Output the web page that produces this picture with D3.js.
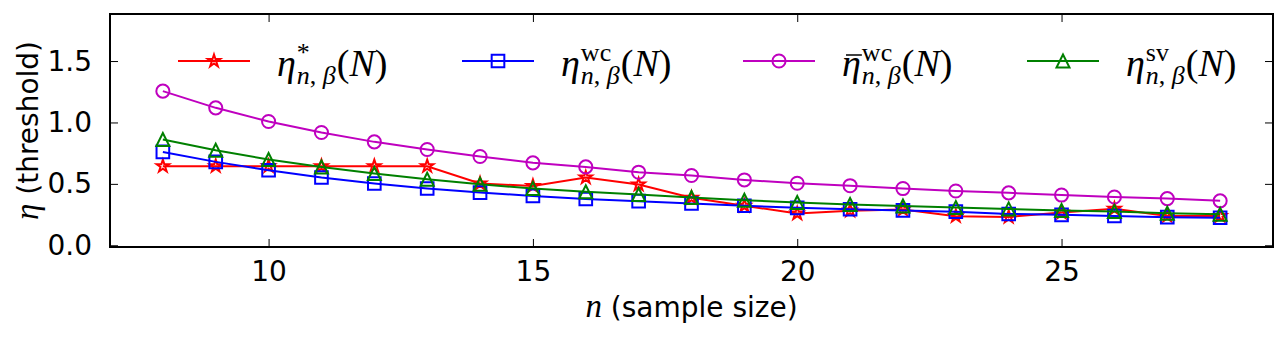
<!DOCTYPE html>
<html>
<head>
<meta charset="utf-8">
<script src="https://cdn.jsdelivr.net/npm/d3@7"></script>
<style>
  body { margin: 0; background: #fff; }
</style>
</head>
<body>
<div id="chart"></div>
<script>
// sample sizes n
var nValues = [8, 9, 10, 11, 12, 13, 14, 15, 16, 17, 18, 19, 20, 21, 22, 23, 24, 25, 26, 27, 28];

// thresholds
var etaStar  = [0.644, 0.644, 0.644, 0.644, 0.644, 0.644, 0.503, 0.483, 0.552, 0.494, 0.387, 0.322, 0.258, 0.282, 0.291, 0.237, 0.231, 0.266, 0.297, 0.239, 0.239];
var etaWc    = [0.760, 0.679, 0.611, 0.552, 0.503, 0.462, 0.429, 0.402, 0.377, 0.359, 0.340, 0.322, 0.305, 0.293, 0.284, 0.274, 0.255, 0.248, 0.238, 0.229, 0.224];
var etaBarWc = [1.255, 1.119, 1.008, 0.918, 0.842, 0.780, 0.723, 0.671, 0.638, 0.595, 0.568, 0.532, 0.505, 0.485, 0.462, 0.442, 0.427, 0.409, 0.393, 0.380, 0.362];
var etaSv    = [0.861, 0.774, 0.698, 0.638, 0.584, 0.538, 0.497, 0.462, 0.435, 0.413, 0.389, 0.367, 0.348, 0.332, 0.320, 0.307, 0.296, 0.283, 0.275, 0.261, 0.253];

var xTicks = [10, 15, 20, 25];
var yTicks = [0.0, 0.5, 1.0, 1.5];

var SANS = "'DejaVu Sans', sans-serif";
var SERIF = "'Liberation Serif', 'DejaVu Serif', serif";

// set the dimensions and margins of the graph
var margin = { top: 14, right: 15, bottom: 93, left: 110 },
    width = 1288 - margin.left - margin.right,
    height = 340 - margin.top - margin.bottom;

var svg = d3.select("#chart")
    .append("svg")
    .attr("width", 1288)
    .attr("height", 340)
    .append("g")
    .attr("transform", "translate(" + margin.left + "," + margin.top + ")");

var x = d3.scaleLinear().domain([7, 29]).range([0, width]);
var y = d3.scaleLinear().domain([-0.014, 1.883]).range([height, 0]);

// ticks point inward on all four sides
var tickLen = 8;
svg.append("g")
    .attr("transform", "translate(0," + height + ")")
    .call(d3.axisBottom(x).tickValues(xTicks).tickSizeInner(-tickLen).tickSizeOuter(0).tickPadding(14).tickFormat(d3.format("d")))
    .call(function (g) { g.select(".domain").remove(); });
svg.append("g")
    .call(d3.axisTop(x).tickValues(xTicks).tickSizeInner(-tickLen).tickSizeOuter(0).tickFormat(""))
    .call(function (g) { g.select(".domain").remove(); });
svg.append("g")
    .call(d3.axisLeft(y).tickValues(yTicks).tickSizeInner(-tickLen).tickSizeOuter(0).tickPadding(18).tickFormat(d3.format(".1f")))
    .call(function (g) { g.select(".domain").remove(); });
svg.append("g")
    .attr("transform", "translate(" + width + ",0)")
    .call(d3.axisRight(y).tickValues(yTicks).tickSizeInner(-tickLen).tickSizeOuter(0).tickFormat(""))
    .call(function (g) { g.select(".domain").remove(); });

svg.selectAll(".tick line").attr("stroke", "#000").attr("stroke-width", 1);
svg.selectAll(".tick text").attr("font-size", 28).attr("fill", "#000")
    .style("font-family", SANS);

// frame
svg.append("rect")
    .attr("width", width)
    .attr("height", height)
    .attr("fill", "none")
    .attr("stroke", "#000")
    .attr("stroke-width", 2);

// markers
var starPath = d3.symbol().type(d3.symbolStar).size(48)();
var squarePath = d3.symbol().type(d3.symbolSquare).size(160)();
var circlePath = d3.symbol().type(d3.symbolCircle).size(135)();
var triPath = "M0,-6.5L-6.5,6.5L6.5,6.5Z";

var series = [
    { name: "star", values: etaStar, color: "#ff0000", marker: starPath, sup: "*", bar: false },
    { name: "wc", values: etaWc, color: "#0000ff", marker: squarePath, sup: "wc", bar: false },
    { name: "barwc", values: etaBarWc, color: "#bf00bf", marker: circlePath, sup: "wc", bar: true },
    { name: "sv", values: etaSv, color: "#008000", marker: triPath, sup: "sv", bar: false }
];

var line = d3.line()
    .x(function (d) { return x(d[0]); })
    .y(function (d) { return y(d[1]); });

series.forEach(function (s) {
    var pts = nValues.map(function (n, i) { return [n, s.values[i]]; });
    var g = svg.append("g");
    g.append("path")
        .datum(pts)
        .attr("d", line)
        .attr("fill", "none")
        .attr("stroke", s.color)
        .attr("stroke-width", 2);
    g.selectAll("path.mk")
        .data(pts)
        .enter().append("path")
        .attr("class", "mk")
        .attr("d", s.marker)
        .attr("transform", function (d) { return "translate(" + x(d[0]) + "," + y(d[1]) + ")"; })
        .attr("fill", "none")
        .attr("stroke", s.color)
        .attr("stroke-width", 2);
});

// legend (no frame, 4 columns)
var legendX = [68, 352, 633, 917];
var legendY = 47;
var legend = svg.append("g");
series.forEach(function (s, i) {
    var g = legend.append("g").attr("transform", "translate(" + legendX[i] + "," + legendY + ")");
    g.append("line")
        .attr("x1", 0).attr("x2", 72)
        .attr("stroke", s.color).attr("stroke-width", 2);
    g.append("path")
        .attr("d", s.marker)
        .attr("transform", "translate(36,0)")
        .attr("fill", "none")
        .attr("stroke", s.color)
        .attr("stroke-width", 2);

    var tx = 99, base = 15;
    var eta = g.append("text")
        .style("font-family", SERIF)
        .attr("x", tx).attr("y", base)
        .attr("font-size", 38).attr("font-style", "italic")
        .text("η");
    var ew = eta.node().getComputedTextLength();
    if (s.bar) {
        g.append("line")
            .attr("x1", tx + 4).attr("x2", tx + ew + 1)
            .attr("y1", base - 21).attr("y2", base - 21)
            .attr("stroke", "#000").attr("stroke-width", 1.5);
    }
    var sx = tx + ew + 1;
    var sup = g.append("text")
        .style("font-family", SERIF)
        .attr("x", sx).attr("y", base - 15)
        .attr("font-size", 26)
        .text(s.sup);
    var sub = g.append("text")
        .style("font-family", SERIF)
        .attr("x", sx).attr("y", base + 8)
        .attr("font-size", 26);
    sub.append("tspan").attr("font-style", "italic").text("n");
    sub.append("tspan").text(", ");
    sub.append("tspan").attr("font-style", "italic").text("β");
    var w = Math.max(sup.node().getComputedTextLength(), sub.node().getComputedTextLength());
    var tail = g.append("text")
        .style("font-family", SERIF)
        .attr("x", sx + w + 1).attr("y", base)
        .attr("font-size", 38);
    tail.append("tspan").text("(");
    tail.append("tspan").attr("font-style", "italic").text("N");
    tail.append("tspan").text(")");
});

// axis labels
var xl = svg.append("text")
    .attr("x", width / 2)
    .attr("y", height + 70)
    .attr("text-anchor", "middle")
    .attr("font-size", 28)
    .style("font-family", SANS);
xl.append("tspan").style("font-family", SERIF).attr("font-style", "italic").attr("font-size", 33).text("n");
xl.append("tspan").text(" (sample size)");

var yl = svg.append("text")
    .attr("transform", "translate(" + (38 - margin.left) + "," + (height / 2) + ") rotate(-90)")
    .attr("text-anchor", "middle")
    .attr("font-size", 28)
    .style("font-family", SANS);
yl.append("tspan").style("font-family", SERIF).attr("font-style", "italic").attr("font-size", 33).text("η");
yl.append("tspan").text(" (threshold)");
</script>
</body>
</html>
